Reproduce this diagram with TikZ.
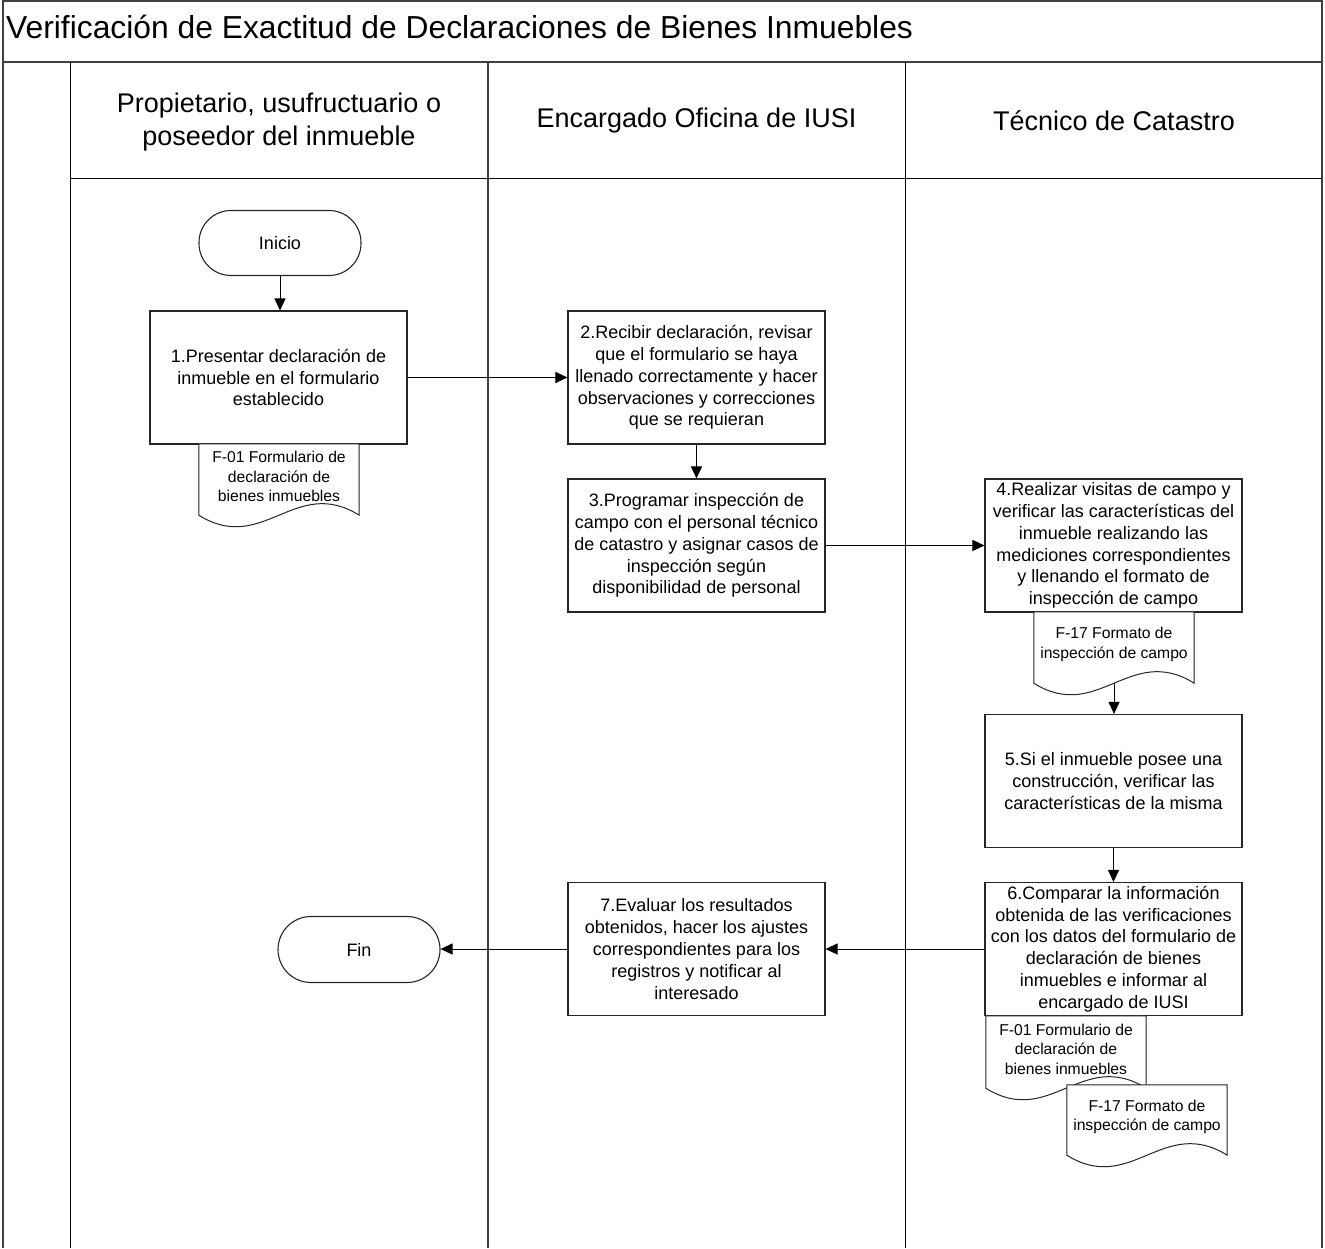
\documentclass[tikz,border=0pt]{standalone}
\usepackage{fontspec}
\setmainfont{Liberation Sans}
\usetikzlibrary{arrows.meta,calc}

\tikzset{
  framestroke/.style={draw=black!75, line width=1.5pt},
  lanestroke/.style={draw=black, line width=1pt},
  stepbox/.style={draw=black!85, line width=1.1pt, fill=white, minimum width=257pt,
    minimum height=133pt, inner sep=0pt, align=center,
    font=\fontsize{18}{21.8}\selectfont},
  termbox/.style={draw=black!85, line width=1.1pt, fill=white, rounded corners=32pt,
    minimum width=162pt, minimum height=65pt, inner sep=0pt,
    font=\fontsize{18}{21.8}\selectfont},
  docframe/.style={minimum width=160pt, inner sep=0pt},
  docline/.style={draw=black!85, line width=1pt, fill=white},
  doctext/.style={align=center, inner sep=0pt, font=\fontsize{15.7}{19.5}\selectfont},
  lanehead/.style={align=center, inner sep=0pt, font=\fontsize{27}{33}\selectfont},
  flow/.style={draw=black, line width=1pt, -{Triangle[length=12pt,width=11pt]}},
}

% document symbol: name, centre x, top y, height, text
\newcommand\docsymbol[5]{%
  \node[docframe, minimum height=#4pt] (#1) at (#2,{#3+#4/2}) {};
  \path[docline] (#1.north west) -- (#1.south west)
    .. controls ($(#1.south)+(-16,40)$) and ($(#1.south)+(16,-40)$) .. (#1.south east)
    -- (#1.north east) -- cycle;
  \node[doctext] (#1-t) at ([yshift=3pt]#1.center) {#5};
}

\begin{document}
\begin{tikzpicture}[x=1pt, y=-1pt]
  \useasboundingbox (0,0) rectangle (1325,1248);

  % outer frame and title bar
  \draw[framestroke] (3,0) -- (3,1248);
  \draw[framestroke] (1322,0) -- (1322,1248);
  \draw[framestroke] (3,1) -- (1322,1);
  \draw[framestroke] (3,62) -- (1322,62);
  \node[anchor=base west, inner sep=0pt, font=\fontsize{31.8}{36}\selectfont] (title)
    at (6,38) {Verificación de Exactitud de Declaraciones de Bienes Inmuebles};

  % swimlanes
  \draw[lanestroke] (70,62) -- (70,1248);
  \draw[framestroke] (488,62) -- (488,1248);
  \draw[lanestroke] (905,62) -- (905,1248);
  \draw[lanestroke] (70,178) -- (1322,178);

  \node[lanehead] (lane1) at (279,122) {Propietario, usufructuario o\\poseedor del inmueble};
  \node[lanehead] (lane2) at (696.5,121) {Encargado Oficina de IUSI};
  \node[lanehead] (lane3) at (1114,121) {Técnico de Catastro};

  % process steps
  \node[termbox] (inicio) at (280,243) {Inicio};
  \node[stepbox] (s1) at (278.5,377.5) {1.Presentar declaración de\\inmueble en el formulario\\establecido};
  \docsymbol{d1}{279}{444}{71}{F-01 Formulario de\\declaración de\\bienes inmuebles}

  \node[stepbox] (s2) at (696.5,377.5) {2.Recibir declaración, revisar\\que el formulario se haya\\llenado correctamente y hacer\\observaciones y correcciones\\que se requieran};
  \node[stepbox] (s3) at (696.5,545.5) {3.Programar inspección de\\campo con el personal técnico\\de catastro y asignar casos de\\inspección según\\disponibilidad de personal};

  \node[stepbox] (s4) at (1113.5,545.5) {4.Realizar visitas de campo y\\verificar las características del\\inmueble realizando las\\mediciones correspondientes\\y llenando el formato de\\inspección de campo};
  \docsymbol{d2}{1114}{612}{71}{F-17 Formato de\\inspección de campo}

  \node[stepbox] (s5) at (1113.5,781) {5.Si el inmueble posee una\\construcción, verificar las\\características de la misma};
  \node[stepbox] (s6) at (1113.5,949) {6.Comparar la información\\obtenida de las verificaciones\\con los datos del formulario de\\declaración de bienes\\inmuebles e informar al\\encargado de IUSI};
  \docsymbol{d3}{1066}{1016}{72}{F-01 Formulario de\\declaración de\\bienes inmuebles}
  \docsymbol{d4}{1147}{1085}{70}{F-17 Formato de\\inspección de campo}

  \node[stepbox] (s7) at (696.5,949) {7.Evaluar los resultados\\obtenidos, hacer los ajustes\\correspondientes para los\\registros y notificar al\\interesado};
  \node[termbox, minimum height=66pt, rounded corners=33pt] (fin) at (359,949.5) {Fin};

  % connectors
  \draw[flow] (inicio.south) -- (inicio.south |- s1.north);
  \draw[flow] (s1.east) -- (s2.west);
  \draw[flow] (s2.south) -- (s3.north);
  \draw[flow] (s3.east) -- (s4.west);
  \draw[flow] (d2.south) -- (d2.south |- s5.north);
  \draw[flow] (s5.south) -- (s6.north);
  \draw[flow] (s6.west) -- (s7.east);
  \draw[flow] (s7.west) -- (s7.west -| fin.east);
\end{tikzpicture}
\end{document}
